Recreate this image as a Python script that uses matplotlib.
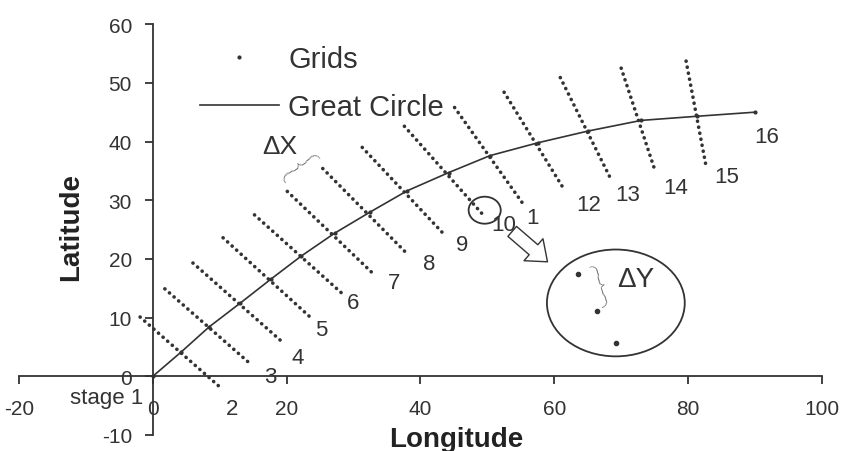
"""Great circle route with the grid lines of each stage"""
import matplotlib
matplotlib.use('Agg')
import matplotlib.pyplot as plt
import matplotlib.patches as patches
from matplotlib.lines import Line2D

plt.rcParams['font.family'] = ['Liberation Sans', 'DejaVu Sans']
plt.rcParams['axes.unicode_minus'] = False
plt.rcParams['lines.scale_dashes'] = False

INK = '#333333'

# ============================================================================
# DATA
# ============================================================================
# great circle stage points (stage 1 .. 16)
stage_lon = [0, 4.2, 8.4, 13.1, 17.7, 22.2, 27.2, 32.5, 38.0, 44.2, 50.4, 57.6, 65.1, 73.0, 81.3, 90.0]
stage_lat = [0, 4.1, 8.4, 12.5, 16.6, 20.5, 24.4, 28.0, 31.6, 34.7, 37.6, 39.8, 41.8, 43.6, 44.3, 45.0]

# grid line ends for stages 2 .. 15
grid_top_lon = [-1.9, 1.8, 6.0, 10.5, 15.2, 20.1, 25.4, 31.3, 37.6, 45.1, 52.5, 60.9, 70.0, 79.7]
grid_top_lat = [10.1, 14.9, 19.3, 23.6, 27.5, 31.5, 35.4, 39.0, 42.6, 45.8, 48.4, 50.9, 52.5, 53.7]
grid_bot_lon = [10.3, 14.8, 19.4, 23.7, 28.6, 33.1, 37.9, 43.6, 49.6, 55.2, 61.6, 68.5, 75.1, 82.7]
grid_bot_lat = [-2.1, 1.9, 5.8, 9.9, 13.8, 17.3, 21.0, 24.1, 27.2, 29.6, 31.6, 33.5, 34.9, 35.7]

# stage labels
stage_text = ['stage 1', '2', '3', '4', '5', '6', '7', '8', '9', '10', '1',
              '12', '13', '14', '15', '16']
label_lon = [-6.9, 11.9, 17.5, 21.6, 25.2, 29.9, 36.1, 41.3, 46.3, 52.5, 56.7,
             65.2, 70.9, 78.2, 85.7, 91.8]
label_lat = [-3.6, -5.5, 0.0, 3.2, 7.9, 12.5, 15.9, 19.3, 22.4, 25.8, 27.0,
             29.2, 30.9, 32.1, 34.0, 40.9]

# magnified grid points (inset)
zoom_lon = [63.5, 66.4, 69.2]
zoom_lat = [17.5, 11.2, 5.6]

x_ticks = [-20, 0, 20, 40, 60, 80, 100]
y_ticks = [-10, 0, 10, 20, 30, 40, 50, 60]

# ============================================================================
# PLOTTING
# ============================================================================
fig = plt.figure(figsize=(8.47, 4.52), dpi=100)
ax = fig.add_axes([0.0224, 0.0354, 0.948, 0.909])
ax.set_xlim(-20, 100)
ax.set_ylim(-10, 60)

# --- grid lines (dotted) ---
for i in range(len(grid_top_lon)):
    ax.plot([grid_top_lon[i], grid_bot_lon[i]], [grid_top_lat[i], grid_bot_lat[i]],
            color=INK, lw=2.6, linestyle=(0, (0.1, 4.3)), dash_capstyle='round')

# --- great circle ---
ax.plot(stage_lon, stage_lat, color=INK, lw=1.2, marker='.', markersize=4)

# --- stage labels ---
for i, t in enumerate(stage_text):
    ax.text(label_lon[i], label_lat[i], t, ha='center', va='center',
            fontsize=16, color=INK)

# --- zoom circle, arrow and magnified view ---
ax.add_patch(patches.Ellipse((49.6, 28.3), 4.8, 4.6, fill=False, ec=INK, lw=1.3))
ax.add_patch(patches.FancyArrowPatch((53.4, 25.0), (59.3, 19.2),
             arrowstyle='simple,head_length=0.7,head_width=1.1,tail_width=0.5',
             mutation_scale=19, fc='white', ec=INK, lw=1))
ax.add_patch(patches.Ellipse((69.2, 12.5), 20.6, 18.2, fill=False, ec=INK, lw=1.3))
ax.plot(zoom_lon, zoom_lat, 'o', color=INK, markersize=3, ls='none')

# --- braces (thin glyphs) ---
brace_font = dict(family=['Lato', 'DejaVu Sans'], fontweight='light', color='#111111')
ax.text(21.4, 35.3, '{', rotation=-55, ha='center', va='center', fontsize=34, **brace_font)
ax.text(19.0, 39.3, '\u0394X', ha='center', va='center', fontsize=19, color=INK)
ax.text(67.0, 15.2, '}', rotation=17, ha='center', va='center', fontsize=34, **brace_font)
ax.text(72.2, 16.6, '\u0394Y', ha='center', va='center', fontsize=20, color=INK)

# ============================================================================
# FORMATTING
# ============================================================================
for side in ['top', 'right']:
    ax.spines[side].set_visible(False)
ax.spines['left'].set_position(('data', 0))
ax.spines['bottom'].set_position(('data', 0))
for side in ['left', 'bottom']:
    ax.spines[side].set_color(INK)
    ax.spines[side].set_linewidth(1.3)

ax.set_xticks(x_ticks)
ax.set_yticks(y_ticks)
ax.tick_params(axis='both', colors=INK, labelsize=15, length=6, width=1.3)
ax.tick_params(axis='x', pad=10)
ax.tick_params(axis='y', pad=9)

ax.set_xlabel('Longitude', fontsize=20, fontweight='bold', color='#222222')
ax.xaxis.set_label_coords(0.544, -0.01)
ax.xaxis.label.set_va('center')
ax.set_ylabel('Latitude', fontsize=20, fontweight='bold', color='#222222')
ax.yaxis.set_label_coords(0.065, 0.508)
ax.yaxis.label.set_va('center')

handles = [Line2D([], [], marker='.', ls='none', color=INK, markersize=4),
           Line2D([], [], color=INK, lw=1.2)]
ax.legend(handles, ['Grids', 'Great Circle'], loc='upper left',
          bbox_to_anchor=(200 / 847, 1 - 46 / 452), bbox_transform=fig.transFigure,
          frameon=False, fontsize=21, handlelength=2.7, handletextpad=0.33,
          labelspacing=0.7, borderpad=0, borderaxespad=0, labelcolor=INK)

plt.savefig('out.png', dpi=100)
